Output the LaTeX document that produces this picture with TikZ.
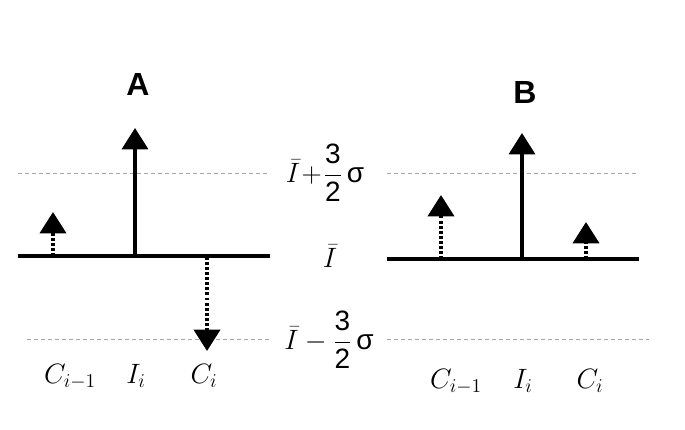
\RequirePackage{fix-cm}
\documentclass[tikz,border=0pt]{standalone}
\usepackage{fontspec}
\usetikzlibrary{arrows.meta}
\newfontfamily\hfont{Liberation Sans}
\begin{document}
\begin{tikzpicture}[x=0.75pt,y=-0.75pt,
  refline/.style={draw=black!35, line width=0.7pt, dash pattern=on 3pt off 2.25pt},
  baseln/.style={line width=2.7pt},
  solidarr/.style={line width=2.7pt, -{Triangle[width=19.5pt,length=16pt]}},
  dotarr/.style={line width=2.9pt, dash pattern=on 2.2pt off 1.6pt, -{Triangle[width=19.5pt,length=16pt]}},
  lbl/.style={font=\fontsize{21}{25}\selectfont, inner sep=0pt, anchor=base},
  midlbl/.style={font=\fontsize{21}{25}\selectfont, inner sep=0pt},
  ttl/.style={font=\hfont\bfseries\fontsize{24}{28}\selectfont, inner sep=0pt}]
\useasboundingbox (0,0) rectangle (685,429);

% ---------- panel A ----------
\coordinate (aTL) at (18,173);  \coordinate (aTR) at (270,173);
\coordinate (aBL) at (27,339);  \coordinate (aBR) at (270,339);
\coordinate (aL)  at (18,256);  \coordinate (aR)  at (270,256);
\draw[refline] (aTL) -- (aTR);
\draw[refline] (aBL) -- (aBR);
\draw[baseln] (aL) -- (aR);

\coordinate (a1s) at (53,256);  \coordinate (a1e) at (53,212);
\coordinate (a2s) at (135,256); \coordinate (a2e) at (135,128);
\coordinate (a3s) at (207,257); \coordinate (a3e) at (207,351);
\draw[dotarr]   (a1s) -- (a1e);
\draw[solidarr] (a2s) -- (a2e);
\draw[dotarr]   (a3s) -- (a3e);

\node[ttl] (tA) at (138,84) {A};
\node[lbl] (aC1) at (70,383)  {$C_{i-1}$};
\node[lbl] (aI)  at (136,383) {$I_i$};
\node[lbl] (aC)  at (204,383) {$C_i$};

% ---------- middle labels ----------
\node[midlbl] (up)  at (325,173) {$\bar I\!+\!\displaystyle\frac{\mbox{\hfont 3}}{\mbox{\hfont 2}}\,\mbox{\hfont σ}$};
\node[midlbl] (mid) at (330,256) {$\bar I$};
\node[midlbl] (low) at (329,340) {$\bar I-\displaystyle\frac{\mbox{\hfont 3}}{\mbox{\hfont 2}}\,\mbox{\hfont σ}$};

% ---------- panel B ----------
\coordinate (bTL) at (387,173); \coordinate (bTR) at (638,173);
\coordinate (bBL) at (387,339); \coordinate (bBR) at (649,339);
\coordinate (bL)  at (387,259); \coordinate (bR)  at (639,259);
\draw[refline] (bTL) -- (bTR);
\draw[refline] (bBL) -- (bBR);
\draw[baseln] (bL) -- (bR);

\coordinate (b1s) at (441,259); \coordinate (b1e) at (441,195);
\coordinate (b2s) at (522,259); \coordinate (b2e) at (522,133);
\coordinate (b3s) at (586,259); \coordinate (b3e) at (586,222);
\draw[dotarr]   (b1s) -- (b1e);
\draw[solidarr] (b2s) -- (b2e);
\draw[dotarr]   (b3s) -- (b3e);

\node[ttl] (tB) at (525,92) {B};
\node[lbl] (bC1) at (456,388) {$C_{i-1}$};
\node[lbl] (bI)  at (523,388) {$I_i$};
\node[lbl] (bC)  at (590,388) {$C_i$};
\end{tikzpicture}
\end{document}
